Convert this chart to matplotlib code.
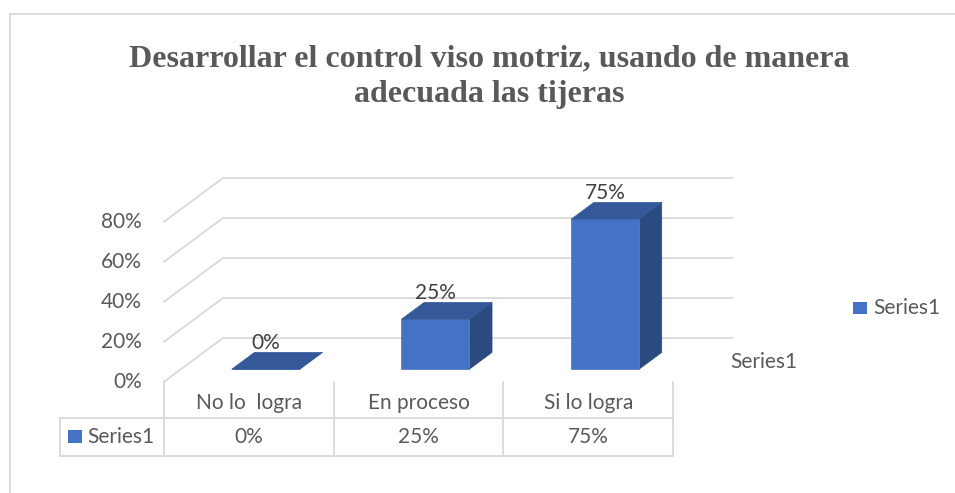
import numpy as np
import matplotlib.pyplot as plt
from matplotlib.patches import Polygon, Rectangle

# data
categories = ["No lo  logra", "En proceso", "Si lo logra"]
values = [0.00, 0.25, 0.75]
series_name = "Series1"
y_ticks = [0.0, 0.2, 0.4, 0.6, 0.8]
title = "Desarrollar el control viso motriz, usando de manera\nadecuada las tijeras"

FRONT = "#4472C4"
TOP = "#34589A"
SIDE = "#2A4A80"
GRID = "#D9D9D9"
TXT = "#595959"
FS = 15

W, H = 955, 493
fig = plt.figure(figsize=(W / 100, H / 100), dpi=100)
ax = fig.add_axes([0, 0, 1, 1])
ax.axis("off")

# layout of the fake 3d plot, in pixels: front-left floor corner, category width, px per 100%
x0, y0 = 164, H - 381.7
cat_w, unit = 169.7, 200
ax.set_xlim(-x0 / cat_w, (W - x0) / cat_w)
ax.set_ylim(-y0 / unit, (H - y0) / unit)


def px(x, y):
    # pixel position (from top-left) -> data coords
    return (x - x0) / cat_w, (H - y - y0) / unit


DX, DY = 59 / cat_w, 43.7 / unit   # full floor depth
z1, z2 = 0.285, 0.67                # bar front / back depth
bw = 0.40
n = len(categories)

# walls: gridlines on the back wall and side wall
for v in y_ticks:
    ax.plot([0, DX, n + DX], [v, v + DY, v + DY], color=GRID, lw=1.3, solid_joinstyle="miter", zorder=1)
    ax.text(px(142, 0)[0], v, f"{v:.0%}", ha="right", va="center", fontsize=FS,
            family="Lato", color=TXT)

# bars
ox, oy = (z2 - z1) * DX, (z2 - z1) * DY
for i, v in enumerate(values):
    cx = i + 0.5 + z1 * DX
    l, r = cx - bw / 2, cx + bw / 2
    b = z1 * DY
    t = v + b
    ax.add_patch(Polygon([(r, b), (r + ox, b + oy), (r + ox, t + oy), (r, t)], closed=True,
                         facecolor=SIDE, edgecolor=SIDE, lw=0.5, zorder=3))
    ax.add_patch(Rectangle((l, b), bw, v, facecolor=FRONT, edgecolor="#4F7FCF", lw=0.6, zorder=3))
    ax.add_patch(Polygon([(l, t), (r, t), (r + ox, t + oy), (l + ox, t + oy)], closed=True,
                         facecolor=TOP, edgecolor=TOP, lw=0.5, zorder=4))
    ax.text(cx, t + oy + 0.045, f"{v:.0%}", ha="center", va="center", fontsize=FS,
            family="Lato", color="#404040", zorder=5)

# depth axis label
ax.text(*px(730, 362), series_name, ha="left", va="center", fontsize=FS, family="Lato", color=TXT)

# data table
tl = px(60, 0)[0]
row_sep = px(0, 418.3)[1]
tb = px(0, 456)[1]
for k in range(n + 1):
    ax.plot([k, k], [0, tb], color=GRID, lw=1.3, zorder=1)
ax.plot([tl, tl], [row_sep, tb], color=GRID, lw=1.3)
ax.plot([tl, n], [row_sep, row_sep], color=GRID, lw=1.3)
ax.plot([tl, n], [tb, tb], color=GRID, lw=1.3)
cat_y = px(0, 403.3)[1]
val_y = px(0, 436.7)[1]
for i, (c, v) in enumerate(zip(categories, values)):
    ax.text(i + 0.5, cat_y, c, ha="center", va="center", fontsize=FS, family="Lato", color=TXT)
    ax.text(i + 0.5, val_y, f"{v:.0%}", ha="center", va="center", fontsize=FS, family="Lato", color=TXT)
kx, ky = px(68.3, 443.3)
ax.add_patch(Rectangle((kx, ky), 13.4 / cat_w, 13.3 / unit, facecolor=FRONT, edgecolor="none"))
ax.text(px(87, 0)[0], val_y, series_name, ha="left", va="center", fontsize=FS, family="Lato", color=TXT)

# legend on the right
lx, ly = px(853.3, 314.3)
ax.add_patch(Rectangle((lx, ly), 13.4 / cat_w, 12.6 / unit, facecolor=FRONT, edgecolor="none"))
ax.text(*px(873, 308), series_name, ha="left", va="center", fontsize=FS, family="Lato", color=TXT)

# title
fig.text(489 / W, 1 - 77 / H, title, ha="center", va="center", ma="center", fontsize=23,
         family="Liberation Serif", fontweight="bold", color=TXT, linespacing=1.3)

# chart frame (only top and left edges visible)
fig.add_artist(plt.Line2D([9.5 / W, 9.5 / W], [0, 1 - 14 / H], color=GRID, lw=1.3))
fig.add_artist(plt.Line2D([9.5 / W, 1], [1 - 14 / H, 1 - 14 / H], color=GRID, lw=1.3))

fig.savefig("out.png", dpi=100)
